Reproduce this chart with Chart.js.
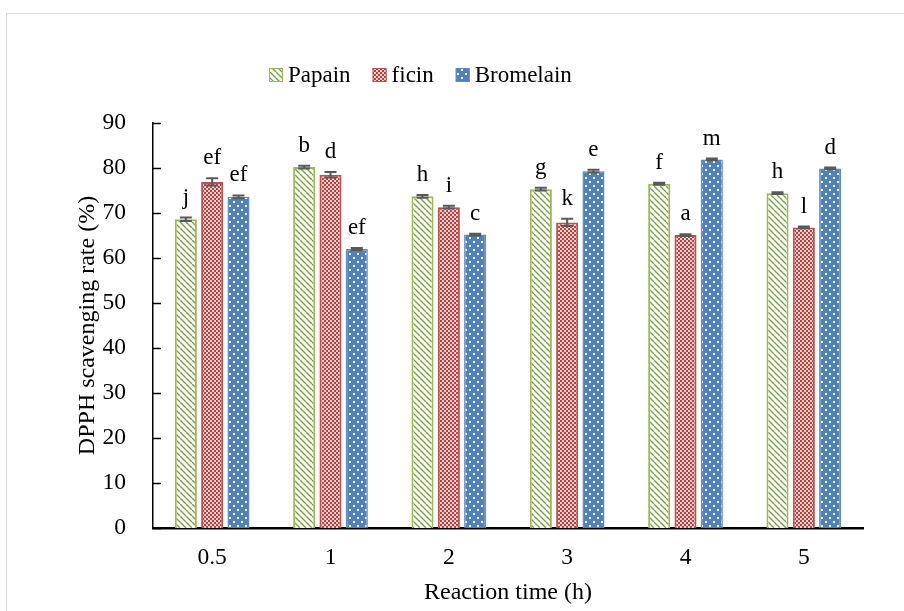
<!DOCTYPE html>
<html>
<head>
<meta charset="utf-8">
<script src="https://cdn.jsdelivr.net/npm/chart.js@4.4.1/dist/chart.umd.min.js"></script>
<style>
  html, body { margin: 0; padding: 0; background: #fff; overflow: hidden; }
  #frame { position: absolute; left: 6px; top: 13px; width: 1000px; height: 700px; border: 1px solid #d9d9d9; }
  #c { position: absolute; left: 0; top: 0; }
</style>
</head>
<body>
<div id="frame"></div>
<canvas id="c" width="904" height="611"></canvas>
<script>
// ---- data ----
const categories = ['0.5', '1', '2', '3', '4', '5'];
const seriesNames = ['Papain', 'ficin', 'Bromelain'];
const papain    = [68.6, 80.2, 73.7, 75.3, 76.5, 74.4];
const ficin     = [76.9, 78.5, 71.3, 67.9, 65.1, 66.8];
const bromelain = [73.6, 62.0, 65.2, 79.3, 81.9, 79.9];
const papainErr    = [0.4, 0.3, 0.3, 0.3, 0.2, 0.2];
const ficinErr     = [0.8, 0.6, 0.3, 0.8, 0.2, 0.2];
const bromelainErr = [0.3, 0.2, 0.2, 0.3, 0.2, 0.2];
const papainLetters    = ['j', 'b', 'h', 'g', 'f', 'h'];
const ficinLetters     = ['ef', 'd', 'i', 'k', 'a', 'l'];
const bromelainLetters = ['ef', 'ef', 'c', 'e', 'm', 'd'];
const yTicks = [0, 10, 20, 30, 40, 50, 60, 70, 80, 90];

const FONT = '"Liberation Serif", "Times New Roman", serif';

// ---- patterns ----
function makePattern(w, h, draw) {
  const c = document.createElement('canvas');
  c.width = w; c.height = h;
  const x = c.getContext('2d');
  draw(x, w, h);
  return x.createPattern(c, 'repeat');
}
const greenPat = makePattern(6, 6, (x, w, h) => {
  x.fillStyle = '#ffffff'; x.fillRect(0, 0, w, h);
  x.strokeStyle = '#74a83c'; x.lineWidth = 1.4;
  for (let k = -1; k <= 1; k++) {
    x.beginPath(); x.moveTo(k * w, 0); x.lineTo(k * w + w, h); x.stroke();
  }
});
const redPat = makePattern(4, 4, (x, w, h) => {
  x.fillStyle = '#f3d6d5'; x.fillRect(0, 0, w, h);
  x.fillStyle = '#c43c38';
  x.fillRect(0, 0, 2, 2); x.fillRect(2, 2, 2, 2);
});
const bluePat = makePattern(8, 8, (x, w, h) => {
  x.fillStyle = '#4f81bd'; x.fillRect(0, 0, w, h);
  x.fillStyle = '#ffffff';
  x.fillRect(1, 1, 2, 2); x.fillRect(5, 5, 2, 2);
});

const errs = [papainErr, ficinErr, bromelainErr];
const letters = [papainLetters, ficinLetters, bromelainLetters];

const overlay = {
  id: 'overlay',
  afterDraw(chart) {
    const ctx = chart.ctx;
    const ys = chart.scales.y;
    // inner y ticks
    ctx.save();
    ctx.strokeStyle = '#000'; ctx.lineWidth = 1.5;
    yTicks.forEach(v => {
      const py = Math.round(ys.getPixelForValue(v)) + 0.5;
      ctx.beginPath(); ctx.moveTo(ys.right, py); ctx.lineTo(ys.right + 8, py); ctx.stroke();
    });
    // error bars + letters
    chart.data.datasets.forEach((ds, i) => {
      const meta = chart.getDatasetMeta(i);
      meta.data.forEach((el, j) => {
        const v = ds.data[j], e = errs[i][j];
        const yt = ys.getPixelForValue(v + e);
        const yb = ys.getPixelForValue(v - e);
        ctx.strokeStyle = '#595959'; ctx.lineWidth = 2;
        ctx.beginPath();
        ctx.moveTo(el.x, yt); ctx.lineTo(el.x, yb);
        ctx.moveTo(el.x - 6, yt); ctx.lineTo(el.x + 6, yt);
        ctx.moveTo(el.x - 6, yb); ctx.lineTo(el.x + 6, yb);
        ctx.stroke();
        ctx.fillStyle = '#000';
        ctx.font = '23px ' + FONT;
        ctx.textAlign = 'center'; ctx.textBaseline = 'alphabetic';
        ctx.fillText(letters[i][j], el.x, yt - 14);
      });
    });
    // legend
    ctx.font = '23px ' + FONT;
    ctx.textAlign = 'left'; ctx.textBaseline = 'alphabetic';
    let lx = 269;
    const boxTop = 68, box = 14;
    chart.data.datasets.forEach((ds) => {
      ctx.fillStyle = ds.backgroundColor;
      ctx.fillRect(lx, boxTop, box, box);
      ctx.strokeStyle = ds.borderColor; ctx.lineWidth = 1;
      ctx.strokeRect(lx + 0.5, boxTop + 0.5, box - 1, box - 1);
      ctx.fillStyle = '#000';
      ctx.fillText(ds.label, lx + box + 5, 82);
      lx += box + 5 + ctx.measureText(ds.label).width + 22;
    });
    ctx.restore();
  }
};

Chart.defaults.color = '#000';
Chart.defaults.font.family = FONT;

new Chart(document.getElementById('c'), {
  type: 'bar',
  data: {
    labels: categories,
    datasets: [
      { label: seriesNames[0], data: papain, backgroundColor: greenPat, borderColor: '#9bbb59', borderWidth: 2 },
      { label: seriesNames[1], data: ficin, backgroundColor: redPat, borderColor: '#c0504d', borderWidth: 2 },
      { label: seriesNames[2], data: bromelain, backgroundColor: bluePat, borderColor: '#5b8cc7', borderWidth: 1.5 }
    ]
  },
  options: {
    responsive: false,
    devicePixelRatio: 1,
    animation: false,
    layout: { padding: { left: 0, right: 41, top: 123, bottom: 5 } },
    datasets: { bar: { categoryPercentage: 0.667, barPercentage: 0.84, borderSkipped: 'start' } },
    plugins: { legend: { display: false }, tooltip: { enabled: false } },
    scales: {
      x: {
        grid: { display: false, drawTicks: false },
        border: { display: true, color: '#000', width: 2.5 },
        ticks: { padding: 16, font: { size: 23.5, family: FONT }, color: '#000' },
        title: { display: true, text: 'Reaction time (h)', font: { size: 24, family: FONT }, color: '#000', padding: { top: 0, bottom: -1 } },
        afterFit(s) { s.height = 611 - 528 - 5; }
      },
      y: {
        min: 0, max: 90,
        grid: { display: false, drawTicks: false },
        border: { display: true, color: '#000', width: 1.5 },
        ticks: { stepSize: 10, padding: 27, font: { size: 23.5, family: FONT }, color: '#000' },
        title: { display: true, text: 'DPPH scavenging rate (%)', font: { size: 24, family: FONT }, color: '#000', padding: { top: 73, bottom: 0 } },
        afterFit(s) { s.width = 153; }
      }
    }
  },
  plugins: [overlay]
});
</script>
</body>
</html>
